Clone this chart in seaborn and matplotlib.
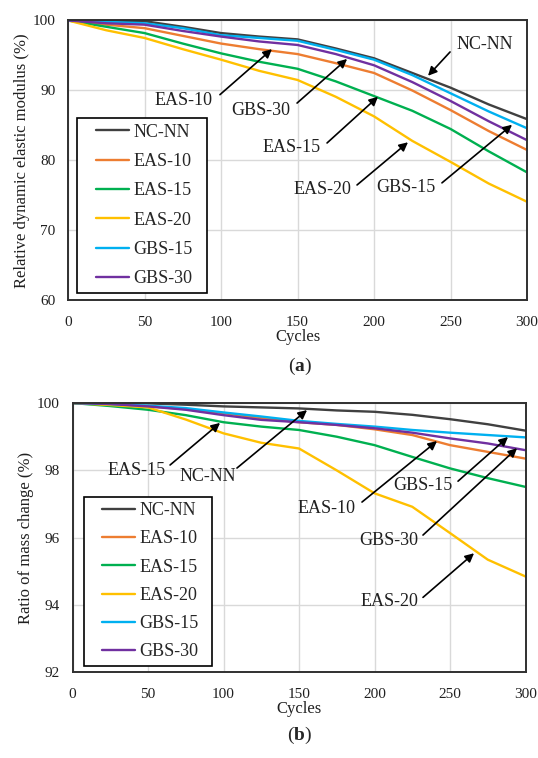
import matplotlib
matplotlib.use("Agg")
import matplotlib.pyplot as plt
from matplotlib.patches import Rectangle
import seaborn as sns
import pandas as pd

# ---------------- data ----------------
cycles = [0, 25, 50, 75, 100, 125, 150, 175, 200, 225, 250, 275, 300]
series_names = ["NC-NN", "EAS-10", "EAS-15", "EAS-20", "GBS-15", "GBS-30"]
colors = ["#404040", "#ED7D31", "#00B050", "#FFC000", "#00B0F0", "#7030A0"]

# (a) relative dynamic elastic modulus (%)
rdem_nc_nn = [100, 100, 99.9, 99.1, 98.2, 97.7, 97.3, 96.0, 94.6, 92.5, 90.4, 88.0, 85.9]
rdem_eas10 = [100, 99.4, 98.9, 97.8, 96.7, 95.9, 95.2, 93.9, 92.5, 90.0, 87.2, 84.2, 81.5]
rdem_eas15 = [100, 99.1, 98.2, 96.7, 95.3, 94.1, 93.1, 91.3, 89.2, 87.1, 84.5, 81.3, 78.3]
rdem_eas20 = [100, 98.6, 97.5, 95.9, 94.4, 92.8, 91.5, 89.1, 86.3, 82.8, 79.8, 76.7, 74.1]
rdem_gbs15 = [100, 99.8, 99.6, 98.9, 97.9, 97.5, 97.1, 95.8, 94.4, 92.2, 89.6, 87.0, 84.6]
rdem_gbs30 = [100, 99.6, 99.4, 98.5, 97.7, 97.0, 96.5, 95.2, 93.6, 91.2, 88.5, 85.6, 82.9]

# (b) ratio of mass change (%)
mass_nc_nn = [100, 100, 99.99, 99.95, 99.9, 99.87, 99.84, 99.78, 99.74, 99.65, 99.52, 99.37, 99.18]
mass_eas10 = [100, 99.97, 99.9, 99.82, 99.7, 99.55, 99.43, 99.35, 99.22, 99.05, 98.75, 98.55, 98.35]
mass_eas15 = [100, 99.91, 99.8, 99.64, 99.43, 99.3, 99.2, 99.0, 98.75, 98.4, 98.06, 97.77, 97.51]
mass_eas20 = [100, 99.94, 99.87, 99.51, 99.1, 98.82, 98.65, 98.0, 97.32, 96.92, 96.14, 95.35, 94.85]
mass_gbs15 = [100, 99.97, 99.92, 99.85, 99.72, 99.6, 99.47, 99.38, 99.3, 99.2, 99.12, 99.05, 98.98]
mass_gbs30 = [100, 99.97, 99.9, 99.8, 99.64, 99.5, 99.43, 99.35, 99.25, 99.12, 98.95, 98.8, 98.6]

xticks = [0, 50, 100, 150, 200, 250, 300]
yticks_a = [60, 70, 80, 90, 100]
yticks_b = [92, 94, 96, 98, 100]

# annotations: (label, text xy, arrow tail xy, arrow head xy)
ann_a = [
    ("NC-NN", (272.5, 96.5), (249.7, 95.5), (235.3, 92.1)),
    ("EAS-10", (75.8, 88.6), (99.3, 89.4), (133.3, 95.9)),
    ("GBS-30", (126.1, 87.2), (149.7, 88.2), (182.4, 94.5)),
    ("EAS-15", (146.4, 81.8), (169.3, 82.5), (202.6, 89.1)),
    ("EAS-20", (166.0, 75.8), (188.9, 76.5), (222.2, 82.6)),
    ("GBS-15", (220.9, 76.2), (244.4, 76.8), (290.2, 85.1)),
]
ann_b = [
    ("EAS-15", (42.1, 98.01), (64.6, 98.16), (97.7, 99.41)),
    ("NC-NN", (89.7, 97.83), (108.9, 98.07), (155.3, 99.79)),
    ("EAS-10", (168.5, 96.88), (191.7, 97.06), (241.4, 98.87)),
    ("GBS-15", (232.1, 97.56), (255.3, 97.68), (288.4, 98.99)),
    ("GBS-30", (209.6, 95.93), (232.1, 96.08), (294.4, 98.66)),
    ("EAS-20", (209.6, 94.12), (232.1, 94.23), (265.9, 95.54)),
]

# ---------------- style ----------------
sns.set_theme(style="whitegrid")
plt.rcParams["font.family"] = ["Liberation Serif", "DejaVu Serif"]
plt.rcParams["mathtext.fontset"] = "custom"
plt.rcParams["mathtext.rm"] = "Liberation Serif"
plt.rcParams["mathtext.bf"] = "Liberation Serif:bold"

fig = plt.figure(figsize=(5.38, 7.58), dpi=100)
ax_a = fig.add_axes([0.1264, 0.6036, 0.8532, 0.3694])
ax_b = fig.add_axes([0.1348, 0.1128, 0.8420, 0.3555])


def long_df(vals):
    rows = []
    for name, v in zip(series_names, vals):
        for c, y in zip(cycles, v):
            rows.append({"Cycles": c, "Value": y, "Series": name})
    return pd.DataFrame(rows)


df_a = long_df([rdem_nc_nn, rdem_eas10, rdem_eas15, rdem_eas20, rdem_gbs15, rdem_gbs30])
df_b = long_df([mass_nc_nn, mass_eas10, mass_eas15, mass_eas20, mass_gbs15, mass_gbs30])
palette = dict(zip(series_names, colors))


def draw(ax, df, yticks, ylabel, anns, box, spacing):
    sns.lineplot(data=df, x="Cycles", y="Value", hue="Series", hue_order=series_names,
                 palette=palette, linewidth=1.7, sort=False, ax=ax)
    ax.set_xlim(0, 300)
    ax.set_ylim(yticks[0], yticks[-1])
    ax.set_xticks(xticks)
    ax.set_yticks(yticks)
    ax.grid(True, color="#d9d9d9", linewidth=1.0)
    for s in ax.spines.values():
        s.set_color("#303030")
        s.set_linewidth(1.4)
    ax.tick_params(axis="x", length=0, labelsize=11, colors="#202020", pad=11)
    ax.tick_params(axis="y", length=0, labelsize=11, colors="#202020", pad=9)
    ax.set_xlabel("Cycles", fontsize=12, labelpad=0, color="#202020")
    ax.set_ylabel(ylabel, fontsize=12, labelpad=2, color="#202020")
    old = ax.get_legend()
    handles = old.legend_handles
    labels = [t.get_text() for t in old.texts]
    for h in handles:
        h.set_linewidth(1.7)
    x0, y0, x1, y1 = box
    ax.add_patch(Rectangle((x0, y0), x1 - x0, y1 - y0, transform=ax.transAxes,
                           facecolor="white", edgecolor="black", linewidth=1.2, zorder=4))
    leg = ax.legend(handles, labels, loc="center", bbox_to_anchor=((x0 + x1) / 2 + 0.005, (y0 + y1) / 2),
                    fontsize=13, frameon=False,
                    handlelength=1.8, handletextpad=0.25, labelspacing=spacing,
                    borderpad=0, borderaxespad=0)
    leg.set_zorder(5)
    for label, txy, tail, head in anns:
        ax.text(txy[0], txy[1], label, fontsize=13, ha="center", va="center", color="#202020")
        ax.annotate("", xy=head, xytext=tail,
                    arrowprops=dict(arrowstyle="-|>", color="black", lw=1.2,
                                    mutation_scale=13, shrinkA=0, shrinkB=0))


draw(ax_a, df_a, yticks_a, "Relative dynamic elastic modulus (%)", ann_a,
     (0.0203, 0.028, 0.302, 0.651), 0.68)
draw(ax_b, df_b, yticks_b, "Ratio of mass change (%)", ann_b,
     (0.0254, 0.0252, 0.3086, 0.652), 0.62)

fig.text(0.5576, 1 - 366 / 758, r"($\mathbf{a}$)", fontsize=14, ha="center", va="center")
fig.text(0.5576, 1 - 735 / 758, r"($\mathbf{b}$)", fontsize=14, ha="center", va="center")

fig.savefig("out.png", dpi=100)
